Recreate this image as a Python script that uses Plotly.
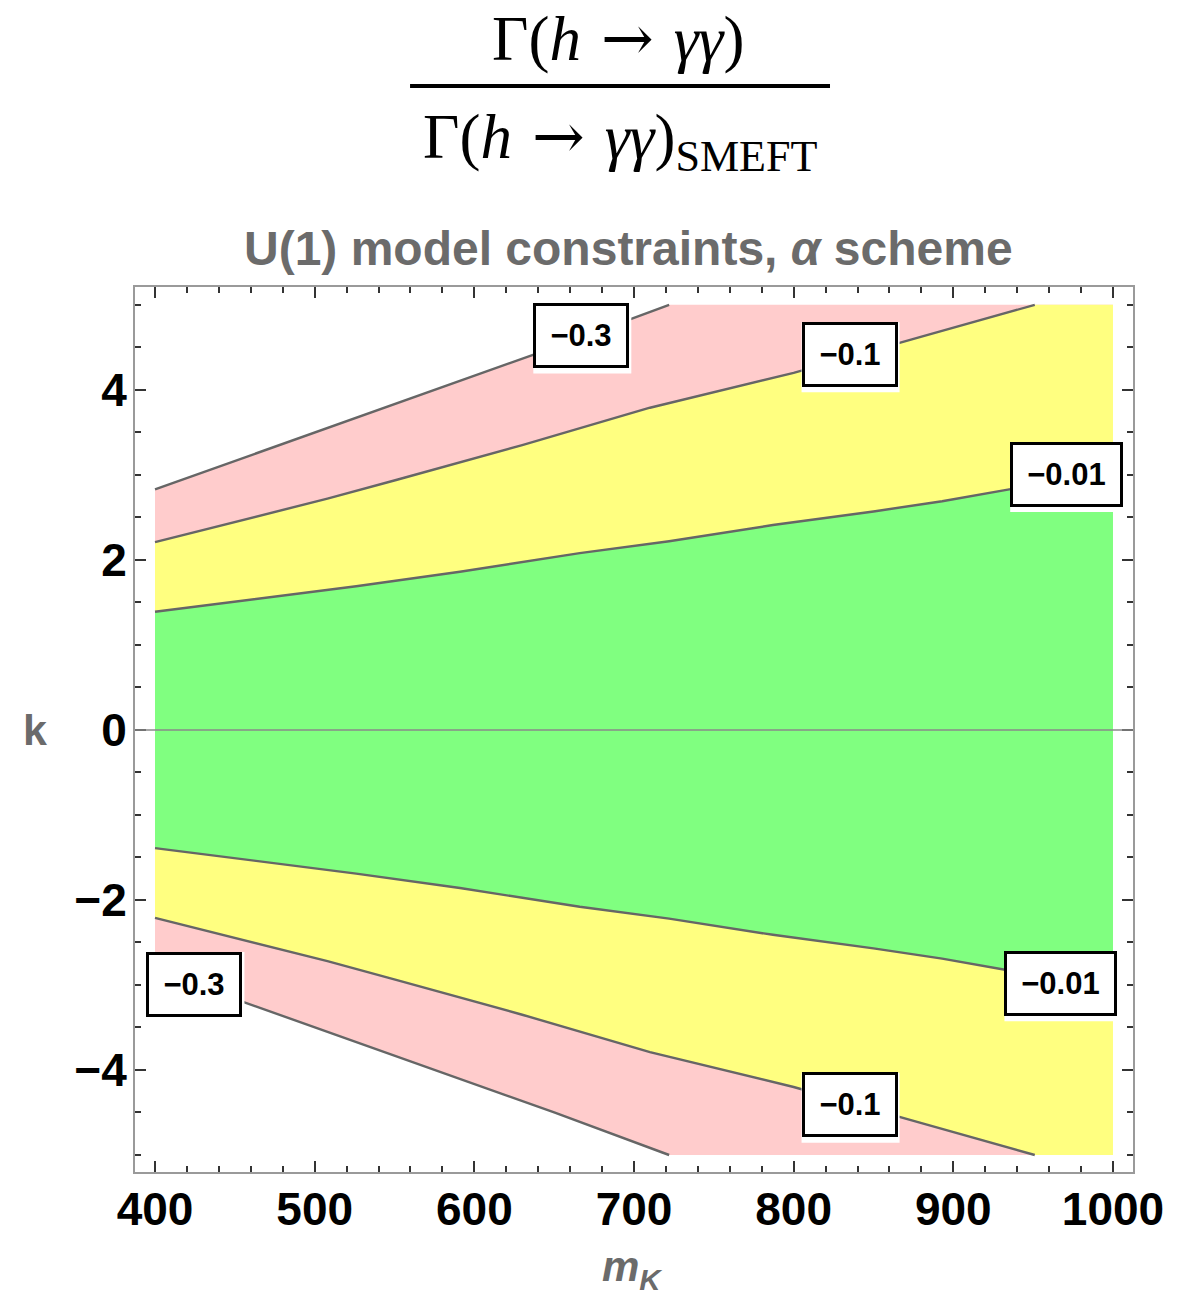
import plotly.graph_objects as go

# ---------------- data ----------------
# contour level -0.01
m_c001 = [400, 474, 526, 591, 666, 722, 787, 850, 893, 935, 1000]
k_c001_up = [1.39, 1.57, 1.69, 1.86, 2.08, 2.22, 2.41, 2.57, 2.69, 2.83, 2.98]
k_c001_lo = [-1.39, -1.57, -1.69, -1.86, -2.08, -2.22, -2.41, -2.57, -2.69, -2.83, -2.98]
# contour level -0.1
m_c01 = [400, 508, 551, 630, 710, 800, 879, 951]
k_c01_up = [2.21, 2.72, 2.94, 3.35, 3.79, 4.20, 4.62, 5.0]
k_c01_lo = [-2.21, -2.72, -2.94, -3.35, -3.79, -4.20, -4.62, -5.0]
# contour level -0.3
m_c03 = [400, 500, 572, 650, 722]
k_c03_up = [2.83, 3.50, 3.98, 4.50, 5.0]
k_c03_lo = [-2.83, -3.50, -3.98, -4.50, -5.0]

m_min, m_max = 400, 1000
k_min, k_max = -5, 5

# contour labels
lab_text = ["\u22120.3", "\u22120.1", "\u22120.01", "\u22120.3", "\u22120.01", "\u22120.1"]
lab_m = [667, 835, 971, 424.7, 967.4, 835]
lab_k = [4.64, 4.42, 3.01, -2.99, -2.98, -4.41]

x_ticks = [400, 500, 600, 700, 800, 900, 1000]
y_ticks = [-4, -2, 0, 2, 4]

PINK = "#FFCCCC"
YELLOW = "#FFFF80"
GREEN = "#80FF80"
LINE = "#666666"
GRAY_TXT = "#6b6b6b"


def band(m, up, lo):
    """polygon between an upper and a lower contour, closed along the right edge"""
    xs = list(m)
    ys = list(up)
    if up[-1] >= k_max:
        xs += [m_max]
        ys += [k_max]
    xs += [m_max]
    ys += [k_min if lo[-1] <= k_min else lo[-1]]
    xs += list(reversed(m))
    ys += list(reversed(lo))
    return xs, ys


fig = go.Figure()
for (m, up, lo, col) in [(m_c03, k_c03_up, k_c03_lo, PINK),
                         (m_c01, k_c01_up, k_c01_lo, YELLOW),
                         (m_c001, k_c001_up, k_c001_lo, GREEN)]:
    xs, ys = band(m, up, lo)
    fig.add_trace(go.Scatter(x=xs, y=ys, fill="toself", fillcolor=col, mode="none",
                             hoverinfo="skip", showlegend=False))

for (m, k) in [(m_c03, k_c03_up), (m_c03, k_c03_lo), (m_c01, k_c01_up), (m_c01, k_c01_lo),
               (m_c001, k_c001_up), (m_c001, k_c001_lo)]:
    fig.add_trace(go.Scatter(x=m, y=k, mode="lines", line=dict(color=LINE, width=2.4),
                             hoverinfo="skip", showlegend=False))

shapes = []
# zero line
shapes.append(dict(type="line", xref="paper", x0=0, x1=1, yref="y", y0=0, y1=0,
                   line=dict(color="#8a8a8a", width=1.5), layer="above"))
annotations = []
for t, m, k in zip(lab_text, lab_m, lab_k):
    w = 107 if len(t) > 4 else 90
    shapes.append(dict(type="rect", xref="x", yref="y", xsizemode="pixel", ysizemode="pixel",
                       xanchor=m, yanchor=k, x0=-w / 2 - 3, x1=w / 2 + 5, y0=-38, y1=32,
                       fillcolor="white", line=dict(width=0), layer="above"))
    annotations.append(dict(x=m, y=k, xref="x", yref="y", text="<b>" + t + "</b>",
                            showarrow=False, xanchor="center", yanchor="middle",
                            width=w, height=59, borderpad=0, borderwidth=3,
                            bordercolor="black", bgcolor="white",
                            font=dict(family="Liberation Sans, Arial", size=31, color="black")))

# fraction bar at the top
shapes.append(dict(type="line", xref="paper", yref="paper", x0=0.2756, x1=0.6964,
                   y0=1.2271, y1=1.2271, line=dict(color="black", width=4)))

serif = "Liberation Serif, Times New Roman, serif"
arrow = "<span style='font-family:DejaVu Serif'>\u00a0\u2192\u00a0</span>"
annotations.append(dict(xref="paper", yref="paper", x=0.484, y=1.281, xanchor="center",
                        yanchor="middle", showarrow=False,
                        text="\u0393(<i>h</i>" + arrow + "<i>\u03b3\u03b3</i>)",
                        font=dict(family=serif, size=63, color="black")))
annotations.append(dict(xref="paper", yref="paper", x=0.486, y=1.166, xanchor="center",
                        yanchor="middle", showarrow=False,
                        text="\u0393(<i>h</i>" + arrow + "<i>\u03b3\u03b3</i>)<sub>SMEFT</sub>",
                        font=dict(family=serif, size=63, color="black")))
# plot title
annotations.append(dict(xref="paper", yref="paper", x=0.494, y=1.044, xanchor="center",
                        yanchor="middle", showarrow=False,
                        text="<b>U(1) model constraints, <i>\u03b1</i> scheme</b>",
                        font=dict(family="Liberation Sans, Arial", size=48, color=GRAY_TXT)))
# axis labels
annotations.append(dict(xref="paper", yref="y", x=-0.1, y=0, xanchor="center",
                        yanchor="middle", showarrow=False, text="<b>k</b>",
                        font=dict(family="Liberation Sans, Arial", size=43, color=GRAY_TXT)))
annotations.append(dict(xref="paper", yref="paper", x=0.498, y=-0.11, xanchor="center",
                        yanchor="middle", showarrow=False,
                        text="<b><i>m</i><sub><i>K</i></sub></b>",
                        font=dict(family="Liberation Sans, Arial", size=42, color=GRAY_TXT)))

axis_common = dict(showgrid=False, zeroline=False, ticks="inside", ticklen=11, tickwidth=2,
                   tickcolor="#333333", showline=True, linecolor="#9a9a9a", linewidth=2,
                   mirror="ticks",
                   tickfont=dict(family="Liberation Sans, Arial", size=46, color="black",
                                 weight="bold"))

fig.update_xaxes(range=[387.47, 1012.53], tickvals=x_ticks, ticklabelstandoff=-4,
                 minor=dict(dtick=20, tick0=0, ticks="inside", ticklen=6, tickwidth=1.5,
                            tickcolor="#333333"),
                 **axis_common)
fig.update_yaxes(range=[-5.2, 5.21], tickvals=y_ticks, ticklabelstandoff=-3,
                 minor=dict(dtick=0.5, tick0=0, ticks="inside", ticklen=6, tickwidth=1.5,
                            tickcolor="#333333"),
                 **axis_common)

fig.update_layout(width=1195, height=1296, autosize=False,
                  margin=dict(l=135, r=62, t=287, b=124),
                  paper_bgcolor="white", plot_bgcolor="white",
                  shapes=shapes, annotations=annotations, showlegend=False)

fig.write_html("out.html")
